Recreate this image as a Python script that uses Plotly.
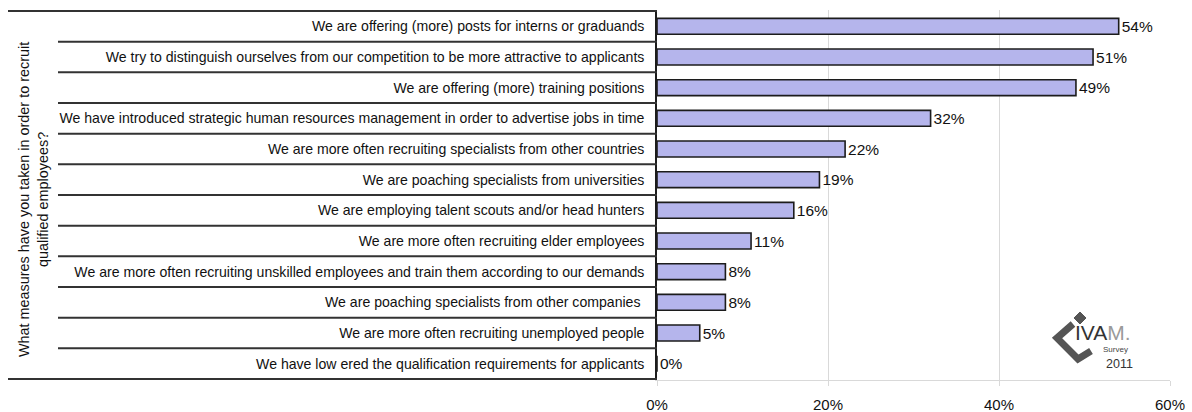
import plotly.graph_objects as go

# Survey answers (top to bottom) and share of respondents in percent
measures = [
    "We are offering (more) posts for interns or graduands",
    "We try to distinguish ourselves from our competition to be more attractive to applicants",
    "We are offering (more) training positions",
    "We have introduced strategic human resources management in order to advertise jobs in time",
    "We are more often recruiting specialists from other countries",
    "We are poaching specialists from universities",
    "We are employing talent scouts and/or head hunters",
    "We are more often recruiting elder employees",
    "We are more often recruiting unskilled employees and train them according to our demands",
    "We are poaching specialists from other companies ",
    "We are more often recruiting unemployed people",
    "We have low ered the qualification requirements for applicants",
]
shares = [54, 51, 49, 32, 22, 19, 16, 11, 8, 8, 5, 0]

x_ticks = [0, 20, 40, 60]
x_tick_labels = ["0%", "20%", "40%", "60%"]

question = "What measures have you taken in order to recruit<br>qualified employees?"

W, H = 1192, 412
L, R, T, B = 657, 22, 10, 32
PW, PH = W - L - R, H - T - B
FONT = "Liberation Sans, Arial, sans-serif"


def px(xpix):
    """Horizontal pixel position -> paper coordinate."""
    return (xpix - L) / PW


def py(ypix):
    """Vertical pixel position -> paper coordinate."""
    return (H - B - ypix) / PH


fig = go.Figure(
    go.Bar(
        x=shares,
        y=measures,
        orientation="h",
        width=0.52,
        marker=dict(color="#b5b5ec", line=dict(color="#1c1c1c", width=1.6)),
        text=[f"{v}%" for v in shares],
        textposition="outside",
        constraintext="none",
        textfont=dict(family=FONT, size=15.5, color="#111"),
        cliponaxis=False,
        hoverinfo="skip",
    )
)

shapes = []
n = len(measures)
# table rules separating the answer rows
for i in range(n - 1):
    shapes.append(dict(type="line", xref="paper", yref="y",
                       x0=px(58), x1=0, y0=i + 0.5, y1=i + 0.5,
                       line=dict(color="#333", width=2)))
for yv in (-0.5, n - 0.5):
    shapes.append(dict(type="line", xref="paper", yref="y",
                       x0=px(8), x1=0, y0=yv, y1=yv,
                       line=dict(color="#333", width=2)))


def path(points):
    return "M " + " L ".join(f"{px(a):.5f},{py(b):.5f}" for a, b in points)


# survey logo: chevron and dot
shapes.append(dict(type="path", xref="paper", yref="paper",
                   path=path([(1073, 324), (1057, 338), (1078, 359), (1091, 351)]),
                   line=dict(color="#555", width=7)))
shapes.append(dict(type="path", xref="paper", yref="paper",
                   path=path([(1080, 312), (1086, 318), (1080, 324), (1074, 318)]) + " Z",
                   fillcolor="#555", line=dict(color="#555", width=1)))

annotations = [
    dict(text=question, textangle=-90, xref="paper", yref="paper",
         x=px(33), y=py(200), xanchor="center", yanchor="middle",
         showarrow=False, align="center",
         font=dict(family=FONT, size=14.4, color="#111")),
    dict(text="IVA<span style='color:#9a9a9a'>M.</span>", xref="paper", yref="paper",
         x=px(1073), y=py(332), xanchor="left", yanchor="middle", showarrow=False,
         font=dict(family=FONT, size=21, color="#333")),
    dict(text="Survey", xref="paper", yref="paper",
         x=px(1115), y=py(349), xanchor="center", yanchor="middle", showarrow=False,
         font=dict(family=FONT, size=8, color="#444")),
    dict(text="2011", xref="paper", yref="paper",
         x=px(1119), y=py(364), xanchor="center", yanchor="middle", showarrow=False,
         font=dict(family=FONT, size=12.5, color="#333")),
]

fig.update_layout(
    width=W, height=H,
    margin=dict(l=L, r=R, t=T, b=B, pad=0),
    paper_bgcolor="white", plot_bgcolor="white",
    showlegend=False,
    bargap=0.48,
    shapes=shapes,
    annotations=annotations,
    xaxis=dict(range=[0, 60], tickvals=x_ticks, ticktext=x_tick_labels,
               showgrid=True, gridcolor="#d9d9d9", gridwidth=1, zeroline=False,
               showline=True, linecolor="#d9d9d9", linewidth=1,
               ticks="outside", ticklen=5, tickcolor="#d9d9d9",
               ticklabelstandoff=6, automargin=False,
               tickfont=dict(family=FONT, size=15, color="#111")),
    yaxis=dict(autorange="reversed", showgrid=False, zeroline=False,
               showline=True, linecolor="#1c1c1c", linewidth=1.5,
               ticks="", ticklabelstandoff=8, automargin=False,
               tickfont=dict(family=FONT, size=14.1, color="#111")),
)

fig.write_html("out.html")
